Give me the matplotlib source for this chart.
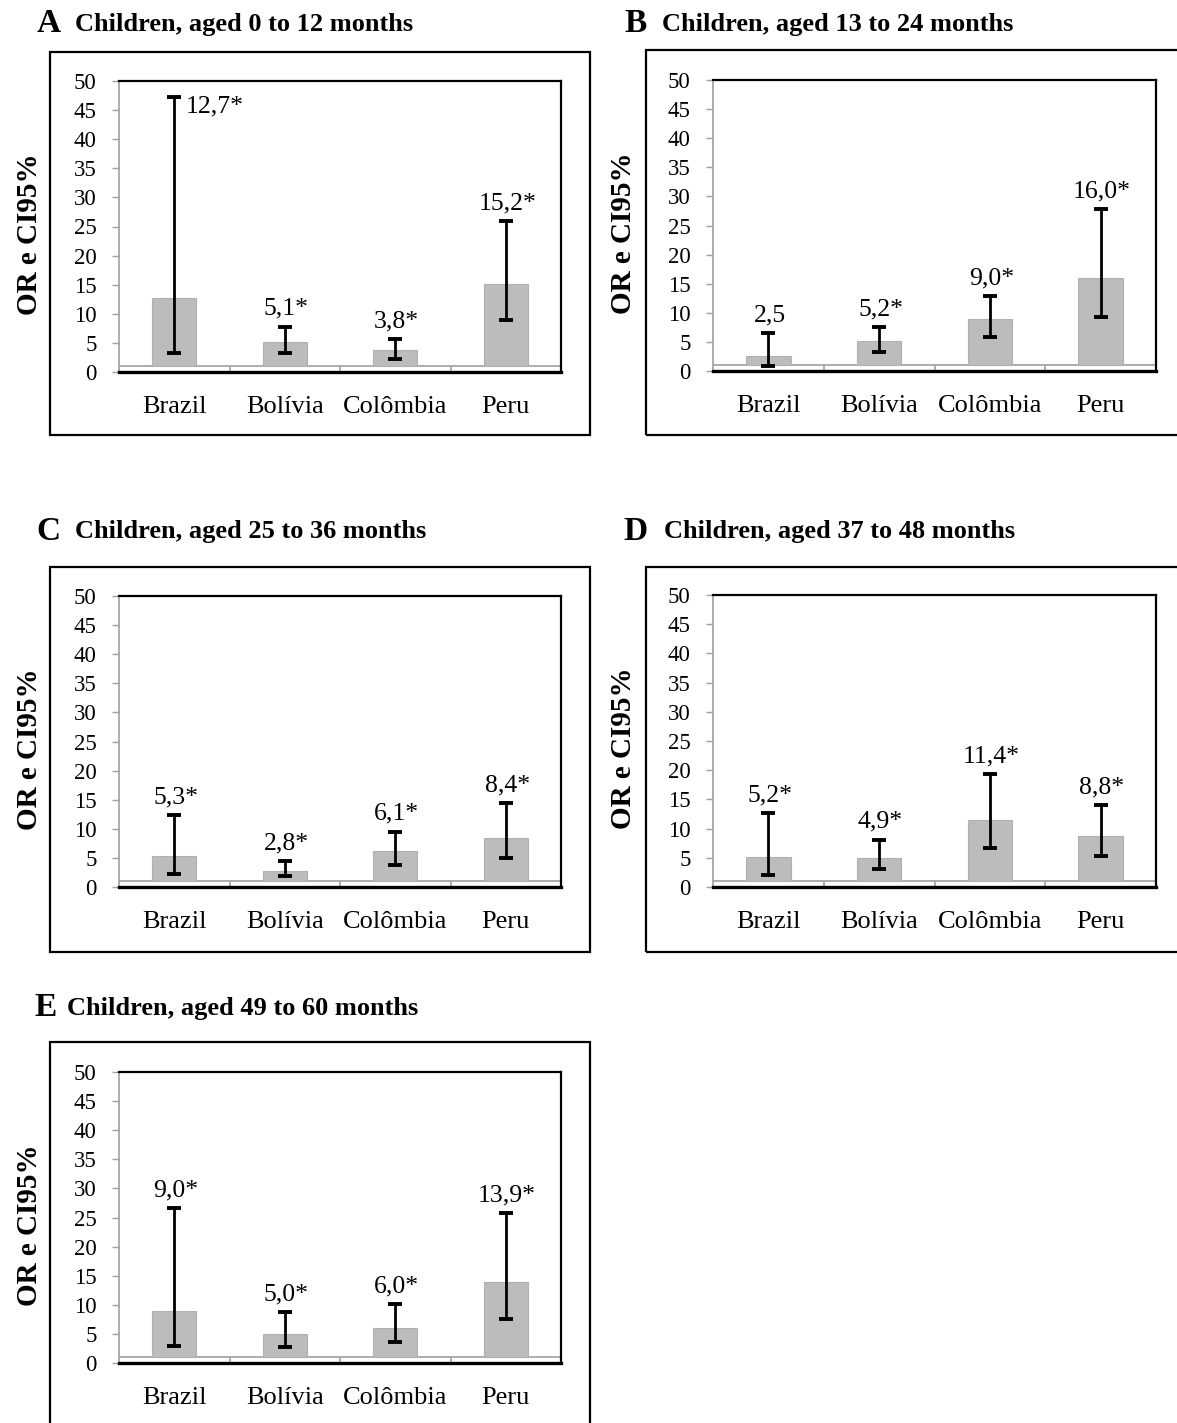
import matplotlib
matplotlib.use('Agg')
import matplotlib.pyplot as plt
from matplotlib.patches import Rectangle

plt.rcParams['font.family'] = ['Liberation Serif', 'DejaVu Serif']

## data (OR and 95% CI per age group)
countries = ['Brazil', 'Bolívia', 'Colômbia', 'Peru']
panel_letters = ['A', 'B', 'C', 'D', 'E']
age_groups = ['0 to 12', '13 to 24', '25 to 36', '37 to 48', '49 to 60']

or_0_12 = [12.7, 5.1, 3.8, 15.2]
lo_0_12 = [3.3, 3.3, 2.3, 8.9]
hi_0_12 = [47.3, 7.8, 5.6, 25.9]

or_13_24 = [2.5, 5.2, 9.0, 16.0]
lo_13_24 = [0.9, 3.3, 5.9, 9.2]
hi_13_24 = [6.5, 7.6, 12.9, 27.8]

or_25_36 = [5.3, 2.8, 6.1, 8.4]
lo_25_36 = [2.3, 1.9, 3.8, 4.9]
hi_25_36 = [12.3, 4.4, 9.5, 14.4]

or_37_48 = [5.2, 4.9, 11.4, 8.8]
lo_37_48 = [2.1, 3.0, 6.7, 5.3]
hi_37_48 = [12.6, 8.1, 19.3, 14.0]

or_49_60 = [9.0, 5.0, 6.0, 13.9]
lo_49_60 = [3.0, 2.7, 3.6, 7.6]
hi_49_60 = [26.6, 8.7, 10.1, 25.7]

ors = [or_0_12, or_13_24, or_25_36, or_37_48, or_49_60]
los = [lo_0_12, lo_13_24, lo_25_36, lo_37_48, lo_49_60]
his = [hi_0_12, hi_13_24, hi_25_36, hi_37_48, hi_49_60]

## layout in pixels of the original figure
W, H = 1177, 1423
fig = plt.figure(figsize=(W / 100, H / 100), dpi=100)

# plot area: left, top, right, bottom
plot_boxes = [(119, 81, 561, 372), (713, 80, 1156, 371),
              (119, 596, 561, 887), (713, 595, 1156, 887),
              (119, 1072, 561, 1363)]
# outer frame of every chart
outer_boxes = [(50, 52, 590, 435), (646, 50, 1200, 435),
               (50, 567, 590, 952), (646, 567, 1200, 952),
               (50, 1042, 590, 1460)]
# title: letter x, text x, y centre
title_pos = [(37, 75, 24), (624, 662, 24), (36, 75, 532),
             (623, 664, 532), (34, 67, 1008)]

bar_gray = '#bcbcbc'
axis_gray = '#a0a0a0'


def px_axes(left, top, right, bottom):
    return fig.add_axes([left / W, 1 - bottom / H,
                         (right - left) / W, (bottom - top) / H])


def fmt_label(v, lo):
    s = f'{v:.1f}'.replace('.', ',')
    if lo > 1:
        s += '*'
    return s


for i in range(5):
    # outer frame
    l, t, r, b = outer_boxes[i]
    fig.patches.append(Rectangle((l / W, 1 - b / H), (r - l) / W, (b - t) / H,
                                 transform=fig.transFigure, fill=False,
                                 edgecolor='black', linewidth=1.6, clip_on=True))
    # title
    lx, tx, ty = title_pos[i]
    fig.text(lx / W, 1 - ty / H, panel_letters[i], fontsize=24,
             fontweight='bold', ha='left', va='center')
    fig.text(tx / W, 1 - ty / H, f'Children, aged {age_groups[i]} months',
             fontsize=19, fontweight='bold', ha='left', va='center')

    ax = px_axes(*plot_boxes[i])
    x = list(range(len(countries)))
    vals, lo, hi = ors[i], los[i], his[i]

    ax.bar(x, [v - 1 for v in vals], bottom=1, width=0.4, color=bar_gray,
           edgecolor='#b0b0b0', linewidth=0.8, zorder=2)
    ax.errorbar(x, vals, yerr=[[v - a for v, a in zip(vals, lo)],
                               [c - v for v, c in zip(vals, hi)]],
                fmt='none', ecolor='black', elinewidth=2.0, capsize=5,
                capthick=2.8, zorder=3)

    # reference line at OR = 1 and category separators
    ax.axhline(1, color=axis_gray, linewidth=1.2, zorder=1)
    ax.vlines([k + 0.5 for k in x[:-1]], 0, 1, color=axis_gray, linewidth=1.2)

    for k in x:
        txt = fmt_label(vals[k], lo[k])
        if hi[k] > 44:
            ax.annotate(txt, (k, hi[k]), xytext=(8, 1), textcoords='offset points',
                        ha='left', va='top', fontsize=18.5, annotation_clip=False)
        else:
            ax.annotate(txt, (k, hi[k]), xytext=(1, 8.5), textcoords='offset points',
                        ha='center', va='baseline', fontsize=18.5, annotation_clip=False)

    ax.set_xlim(-0.5, len(countries) - 0.5)
    ax.set_ylim(0, 50)
    ax.set_yticks(range(0, 51, 5))
    ax.tick_params(axis='y', direction='out', length=5, width=1,
                   color=axis_gray, pad=11, labelsize=16.5)
    ax.set_xticks(x)
    ax.set_xticklabels(countries, fontsize=19)
    ax.tick_params(axis='x', length=0, pad=17)

    ax.spines['left'].set_color(axis_gray)
    ax.spines['left'].set_linewidth(1.2)
    ax.spines['top'].set_linewidth(1.6)
    ax.spines['right'].set_linewidth(1.6)
    ax.spines['bottom'].set_linewidth(2.4)

    ax.set_ylabel('OR e CI95%', fontsize=21, fontweight='bold')
    ax.yaxis.set_label_coords(-0.172, 0.475)

plt.savefig('out.png', dpi=100)
